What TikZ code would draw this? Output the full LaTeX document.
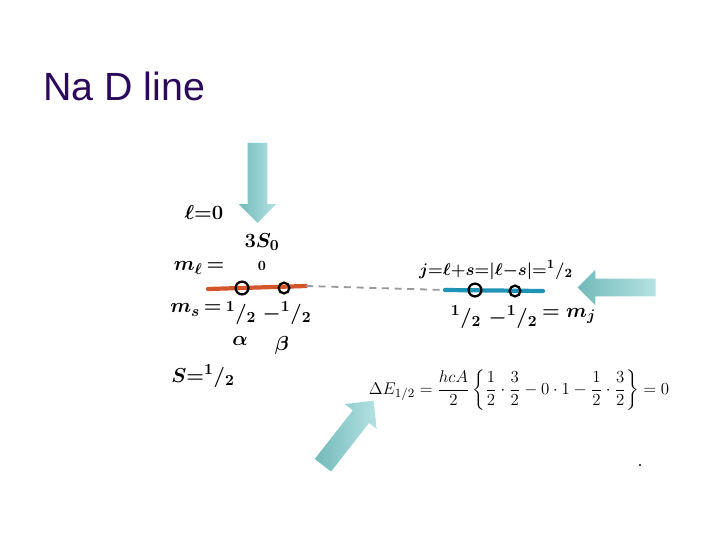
\documentclass[tikz,border=0pt]{standalone}
\usepackage{amsmath}
\usepackage{fontspec}
\newfontfamily\titlefont{Liberation Sans}
\usetikzlibrary{shapes.arrows}
\definecolor{titlepurple}{HTML}{2B0A5C}
\definecolor{arrowlight}{HTML}{B5E2E2}
\definecolor{arrowdark}{HTML}{72BABA}
\definecolor{lineorange}{HTML}{D2562A}
\definecolor{lineblue}{HTML}{1E93B5}
\newcommand{\half}{{}^1{/}{}_2}

\begin{document}
\begin{tikzpicture}[x=0.025cm,y=-0.025cm,
    hand/.style={font=\fontsize{15}{18}\selectfont\boldmath, inner sep=1pt},
    ringmark/.style={circle, draw=black, line width=1.6pt, minimum size=0.32cm, inner sep=0pt},
    bigarrow/.style={single arrow, draw=none, left color=arrowdark, right color=arrowlight}]
  \useasboundingbox (0,0) rectangle (720,540);
  \node [anchor=base west, inner sep=0, text=titlepurple,
    font=\titlefont\fontsize{28}{32}\selectfont] (title) at (43,100) {Na D line};
  % block arrows
  \node [bigarrow, rotate=-90, minimum height=2cm, minimum width=0.925cm,
    inner sep=0.2375cm, single arrow head extend=0.225cm] (arrowdown) at (257.5,178) {};
  \node [bigarrow, rotate=180, minimum height=1.95cm, minimum width=0.875cm,
    inner sep=0.2125cm, single arrow head extend=0.225cm] (arrowleft) at (621,287.5) {};
  \node [bigarrow, rotate=52, minimum height=2.05cm, minimum width=1cm,
    inner sep=0.25cm, single arrow head extend=0.25cm] (arrowdiag) at (345,437) {};
  % 3S0 level
  \node [hand] (lzero) at (204,212) {$\ell{=}0$};
  \node [hand] (term) at (262,242) {$3S_0$};
  \node [hand] (mllabel) at (199,268) {$m_\ell\,{=}$};
  \node [hand, font=\normalsize\boldmath] (mlval) at (262,266) {$0$};
  \coordinate (oleft) at (208,289);
  \coordinate (oright) at (306,286);
  \coordinate (bleft) at (445,290);
  \coordinate (bright) at (543,291);
  \draw [lineorange, line width=3pt, line cap=round] (oleft) -- (oright);
  \draw [gray!80, line width=1.3pt, dash pattern=on 5pt off 4pt] (oright) -- (bleft);
  \draw [lineblue, line width=3pt, line cap=round] (bleft) -- (bright);
  \node [ringmark] (upring) at (242,288) {};
  \node [ringmark, minimum size=0.27cm] (downring) at (284,288) {};
  \node [hand] (mslabel) at (196,310) {$m_s\,{=}$};
  \node [hand] (msup) at (241,313) {$\half$};
  \node [hand] (msdown) at (287,313) {$-\half$};
  \node [hand] (alpha) at (240,341) {$\alpha$};
  \node [hand] (beta) at (282,345) {$\beta$};
  \node [hand] (spin) at (203,376) {$S{=}\half$};
  % j level
  \node [ringmark] (jupring) at (475,290) {};
  \node [ringmark, minimum size=0.27cm] (jdownring) at (515,291) {};
  \node [hand, font=\fontsize{12.5}{15}\selectfont\boldmath] (jlabel) at (496,270) {$j{=}\ell{+}s{=}|\ell{-}s|{=}\half$};
  \node [hand] (mjup) at (466,317) {$\half$};
  \node [hand] (mjdown) at (513,317) {$-\half$};
  \node [hand] (mjlabel) at (569,316) {$=m_j$};
  \node [font=\fontsize{12.7}{15}\selectfont] (shift) at (519,390) {$\displaystyle \Delta E_{1/2}=\frac{hcA}{2}\left\{\frac{1}{2}\cdot\frac{3}{2}-0\cdot 1-\frac{1}{2}\cdot\frac{3}{2}\right\}=0$};
  \node [circle, fill=black, inner sep=0.6pt] (dot) at (640,465) {};
\end{tikzpicture}
\end{document}
